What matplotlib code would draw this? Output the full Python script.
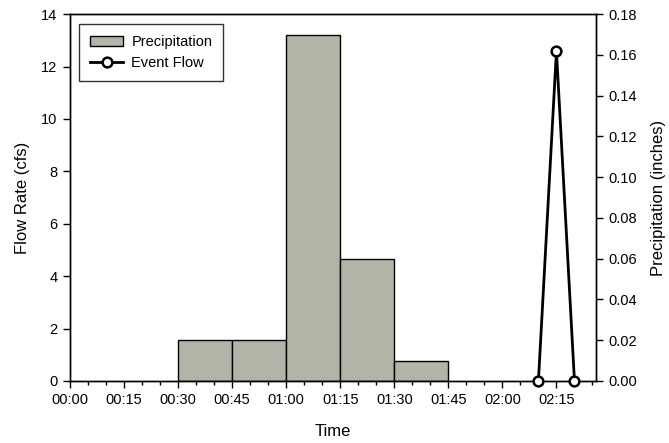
import matplotlib.pyplot as plt
from matplotlib.ticker import FuncFormatter, MultipleLocator

plt.rcParams['font.family'] = ['Liberation Sans', 'DejaVu Sans']

# precipitation: start of each 15-min interval (minutes) and depth (inches)
precip_start = [30, 45, 60, 75, 90]
precip_depth = [0.02, 0.02, 0.17, 0.06, 0.01]

# event flow: time (minutes) and flow rate (cfs)
flow_time = [130, 135, 140]
flow_rate = [0.0, 12.6, 0.0]


def hhmm(x, pos):
    return "%02d:%02d" % (int(x) // 60, int(x) % 60)


fig = plt.figure(figsize=(6.69, 4.43), dpi=100)
ax = fig.add_axes([0.1046, 0.14, 0.7864, 0.828])
ax2 = ax.twinx()

bars = ax2.bar(precip_start, precip_depth, width=15, align='edge',
               color='#b4b3a8', edgecolor='black', linewidth=1.0,
               label='Precipitation')
line, = ax.plot(flow_time, flow_rate, color='black', lw=2, marker='o',
                ms=7, mfc='white', mec='black', mew=1.8, label='Event Flow',
                clip_on=False, zorder=5)
ax.set_zorder(ax2.get_zorder() + 1)
ax.patch.set_visible(False)

ax.set_xlim(0, 146)
ax.set_ylim(0, 14)
ax2.set_ylim(0, 0.18)
ax.xaxis.set_major_locator(MultipleLocator(15))
ax.xaxis.set_minor_locator(MultipleLocator(5))
ax.xaxis.set_major_formatter(FuncFormatter(hhmm))
ax.yaxis.set_major_locator(MultipleLocator(2))
ax2.yaxis.set_major_locator(MultipleLocator(0.02))
ax2.yaxis.set_major_formatter(FuncFormatter(lambda v, p: "%.2f" % v))

for a in (ax, ax2):
    a.tick_params(direction='out', length=5, width=1, labelsize=10.5, pad=4)
    a.tick_params(which='minor', direction='out', length=3, width=1)
    for s in a.spines.values():
        s.set_linewidth(1.0)

ax.set_xlabel("Time", fontsize=12, labelpad=12)
ax.set_ylabel("Flow Rate (cfs)", fontsize=12, labelpad=8)
ax2.set_ylabel("Precipitation (inches)", fontsize=12, labelpad=10)

leg = ax.legend([bars, line], ['Precipitation', 'Event Flow'], loc='upper left',
                bbox_to_anchor=(0.017, 0.973), borderaxespad=0,
                fontsize=10.5, frameon=True, fancybox=False, edgecolor='black',
                handlelength=2.3, handletextpad=0.55, borderpad=0.75,
                labelspacing=0.5)
leg.get_frame().set_linewidth(1.0)

fig.savefig("out.png", dpi=100)
